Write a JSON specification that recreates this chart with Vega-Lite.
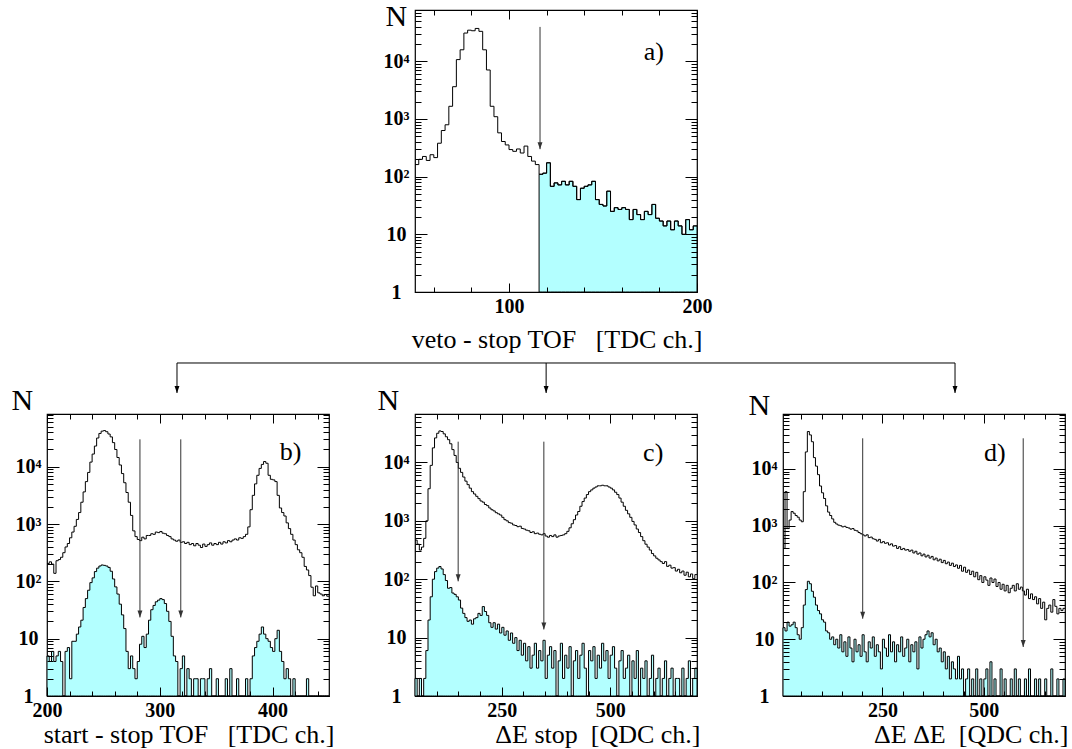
{
"$schema":"https://vega.github.io/schema/vega-lite/v6.json",
"background":"white",
"padding":{"left":10,"top":0,"right":0,"bottom":0},
"config":{"font":"Liberation Serif","view":{"stroke":"#000","strokeWidth":1.2},
"axis":{"domain":false,"grid":false,"tickColor":"#000","tickWidth":1,"labelFont":"Liberation Serif","labelFontSize":20,"labelFontWeight":"bold","labelColor":"#000","titleFont":"Liberation Serif","titleFontSize":26,"titleFontWeight":"normal","titleColor":"#000"}},
"datasets":{
"a":[{"x":50,"n":162},{"x":52,"n":200},{"x":54,"n":224},{"x":56,"n":191},{"x":58,"n":240},{"x":60,"n":214},{"x":62,"n":380},{"x":64,"n":631},{"x":66,"n":794},{"x":68,"n":1660},{"x":70,"n":3631},{"x":72,"n":10715},{"x":74,"n":15849},{"x":76,"n":30903},{"x":78,"n":34674},{"x":80,"n":33884},{"x":82,"n":37154},{"x":84,"n":33113},{"x":86,"n":15849},{"x":88,"n":7079},{"x":90,"n":1660},{"x":92,"n":1096},{"x":94,"n":575},{"x":96,"n":407},{"x":98,"n":355},{"x":100,"n":295},{"x":102,"n":275},{"x":104,"n":302},{"x":106,"n":257},{"x":108,"n":339},{"x":110,"n":224},{"x":112,"n":186},{"x":114,"n":162},{"x":116,"n":110},{"x":118,"n":115},{"x":120,"n":174},{"x":122,"n":68},{"x":124,"n":78},{"x":126,"n":72},{"x":128,"n":83},{"x":130,"n":72},{"x":132,"n":83},{"x":134,"n":68},{"x":136,"n":40},{"x":138,"n":63},{"x":140,"n":68},{"x":142,"n":72},{"x":144,"n":83},{"x":146,"n":40},{"x":148,"n":33},{"x":150,"n":31},{"x":152,"n":56},{"x":154,"n":25},{"x":156,"n":29},{"x":158,"n":27},{"x":160,"n":29},{"x":162,"n":27},{"x":164,"n":18},{"x":166,"n":27},{"x":168,"n":22},{"x":170,"n":18},{"x":172,"n":25},{"x":174,"n":22},{"x":176,"n":33},{"x":178,"n":19},{"x":180,"n":17},{"x":182,"n":14},{"x":184,"n":17},{"x":186,"n":12},{"x":188,"n":17},{"x":190,"n":14},{"x":192,"n":10},{"x":194,"n":18},{"x":196,"n":12},{"x":198,"n":14},{"x":200,"n":14}],
"b":[{"x":200,"t":204,"s":5},{"x":202,"t":219,"s":4},{"x":204,"t":200,"s":6},{"x":206,"t":138,"s":4},{"x":208,"t":229,"s":5},{"x":210,"t":240,"s":6},{"x":212,"t":263,"s":4},{"x":214,"t":316,"s":1},{"x":216,"t":398,"s":6},{"x":218,"t":457,"s":7},{"x":220,"t":575,"s":2},{"x":222,"t":724,"s":9},{"x":224,"t":912,"s":9},{"x":226,"t":1202,"s":12},{"x":228,"t":1585,"s":16},{"x":230,"t":2399,"s":21},{"x":232,"t":3631,"s":35},{"x":234,"t":5495,"s":50},{"x":236,"t":7943,"s":70},{"x":238,"t":12023,"s":95},{"x":240,"t":16596,"s":115},{"x":242,"t":22909,"s":148},{"x":244,"t":31623,"s":170},{"x":246,"t":38019,"s":185},{"x":248,"t":41687,"s":193},{"x":250,"t":42658,"s":190},{"x":252,"t":40738,"s":185},{"x":254,"t":37154,"s":175},{"x":256,"t":33113,"s":150},{"x":258,"t":26303,"s":110},{"x":260,"t":19953,"s":80},{"x":262,"t":14454,"s":60},{"x":264,"t":10715,"s":40},{"x":266,"t":7586,"s":26},{"x":268,"t":5248,"s":15},{"x":270,"t":3548,"s":6},{"x":272,"t":2399,"s":3},{"x":274,"t":1413,"s":5},{"x":276,"t":759,"s":3},{"x":278,"t":603,"s":2},{"x":280,"t":537,"s":4},{"x":282,"t":513,"s":8},{"x":284,"t":589,"s":11},{"x":286,"t":550,"s":7},{"x":288,"t":631,"s":12},{"x":290,"t":631,"s":21},{"x":292,"t":676,"s":32},{"x":294,"t":661,"s":38},{"x":296,"t":724,"s":44},{"x":298,"t":708,"s":47},{"x":300,"t":741,"s":50},{"x":302,"t":692,"s":48},{"x":304,"t":676,"s":41},{"x":306,"t":631,"s":30},{"x":308,"t":603,"s":20},{"x":310,"t":550,"s":11},{"x":312,"t":525,"s":5},{"x":314,"t":501,"s":4},{"x":316,"t":525,"s":1},{"x":318,"t":479,"s":3},{"x":320,"t":490,"s":5},{"x":322,"t":457,"s":1},{"x":324,"t":479,"s":3},{"x":326,"t":437,"s":2},{"x":328,"t":457,"s":1},{"x":330,"t":417,"s":2},{"x":332,"t":457,"s":2},{"x":334,"t":427,"s":1},{"x":336,"t":389,"s":2},{"x":338,"t":447,"s":2},{"x":340,"t":407,"s":1},{"x":342,"t":437,"s":2},{"x":344,"t":468,"s":3},{"x":346,"t":427,"s":1},{"x":348,"t":457,"s":1},{"x":350,"t":437,"s":2},{"x":352,"t":479,"s":1},{"x":354,"t":447,"s":1},{"x":356,"t":490,"s":1},{"x":358,"t":468,"s":2},{"x":360,"t":513,"s":1},{"x":362,"t":490,"s":3},{"x":364,"t":525,"s":1},{"x":366,"t":550,"s":1},{"x":368,"t":525,"s":2},{"x":370,"t":575,"s":1},{"x":372,"t":562,"s":1},{"x":374,"t":603,"s":1},{"x":376,"t":661,"s":2},{"x":378,"t":891,"s":1},{"x":380,"t":1778,"s":2},{"x":382,"t":3162,"s":5},{"x":384,"t":5012,"s":7},{"x":386,"t":7079,"s":9},{"x":388,"t":9333,"s":12},{"x":390,"t":10965,"s":16},{"x":392,"t":12303,"s":12},{"x":394,"t":11482,"s":10},{"x":396,"t":7079,"s":9},{"x":398,"t":6026,"s":7},{"x":400,"t":5888,"s":6},{"x":402,"t":5495,"s":10},{"x":404,"t":3162,"s":14},{"x":406,"t":1905,"s":6},{"x":408,"t":1585,"s":4},{"x":410,"t":1380,"s":2},{"x":412,"t":1047,"s":3},{"x":414,"t":832,"s":2},{"x":416,"t":661,"s":1},{"x":418,"t":525,"s":2},{"x":420,"t":437,"s":1},{"x":422,"t":355,"s":1},{"x":424,"t":316,"s":1},{"x":426,"t":263,"s":1},{"x":428,"t":182,"s":1},{"x":430,"t":158,"s":2},{"x":432,"t":126,"s":1},{"x":434,"t":79,"s":1},{"x":436,"t":56,"s":1},{"x":438,"t":83,"s":1},{"x":440,"t":63,"s":1},{"x":442,"t":60,"s":1},{"x":444,"t":56,"s":1},{"x":446,"t":59,"s":1},{"x":448,"t":55,"s":1},{"x":450,"t":55,"s":1}],
"c":[{"x":50,"t":468,"s":2},{"x":55,"t":398,"s":1},{"x":60,"t":316,"s":2},{"x":65,"t":355,"s":1},{"x":70,"t":501,"s":2},{"x":75,"t":1000,"s":6},{"x":80,"t":3548,"s":20},{"x":85,"t":8913,"s":50},{"x":90,"t":17783,"s":100},{"x":95,"t":26303,"s":135},{"x":100,"t":31623,"s":155},{"x":105,"t":34674,"s":165},{"x":110,"t":33884,"s":150},{"x":115,"t":30903,"s":120},{"x":120,"t":27542,"s":95},{"x":125,"t":24547,"s":70},{"x":130,"t":20893,"s":72},{"x":135,"t":16596,"s":58},{"x":140,"t":13183,"s":55},{"x":145,"t":10000,"s":50},{"x":150,"t":7943,"s":44},{"x":155,"t":6761,"s":32},{"x":160,"t":5623,"s":26},{"x":165,"t":4786,"s":22},{"x":170,"t":4169,"s":19},{"x":175,"t":3631,"s":20},{"x":180,"t":3162,"s":17},{"x":185,"t":2884,"s":21},{"x":190,"t":2630,"s":22},{"x":195,"t":2399,"s":26},{"x":200,"t":2188,"s":24},{"x":205,"t":2089,"s":34},{"x":210,"t":1905,"s":28},{"x":215,"t":1820,"s":24},{"x":220,"t":1660,"s":18},{"x":225,"t":1549,"s":15},{"x":230,"t":1479,"s":18},{"x":235,"t":1380,"s":14},{"x":240,"t":1318,"s":17},{"x":245,"t":1259,"s":12},{"x":250,"t":1148,"s":15},{"x":255,"t":1047,"s":11},{"x":260,"t":1000,"s":13},{"x":265,"t":933,"s":9},{"x":270,"t":912,"s":12},{"x":275,"t":851,"s":8},{"x":280,"t":832,"s":10},{"x":285,"t":794,"s":6},{"x":290,"t":810,"s":9},{"x":295,"t":741,"s":5},{"x":300,"t":724,"s":8},{"x":305,"t":692,"s":4},{"x":310,"t":676,"s":7},{"x":315,"t":631,"s":3},{"x":320,"t":650,"s":5},{"x":325,"t":603,"s":8},{"x":330,"t":617,"s":3},{"x":335,"t":589,"s":6},{"x":340,"t":575,"s":4},{"x":345,"t":603,"s":9},{"x":350,"t":550,"s":2},{"x":355,"t":525,"s":5},{"x":360,"t":562,"s":7},{"x":365,"t":537,"s":3},{"x":370,"t":575,"s":6},{"x":375,"t":525,"s":1},{"x":380,"t":550,"s":4},{"x":385,"t":562,"s":8},{"x":390,"t":575,"s":2},{"x":395,"t":603,"s":5},{"x":400,"t":661,"s":3},{"x":405,"t":759,"s":7},{"x":410,"t":891,"s":1},{"x":415,"t":1047,"s":4},{"x":420,"t":1259,"s":6},{"x":425,"t":1445,"s":2},{"x":430,"t":1778,"s":5},{"x":435,"t":2138,"s":8},{"x":440,"t":2455,"s":3},{"x":445,"t":2818,"s":1},{"x":450,"t":3162,"s":6},{"x":455,"t":3388,"s":4},{"x":460,"t":3631,"s":7},{"x":465,"t":3802,"s":2},{"x":470,"t":3981,"s":5},{"x":475,"t":3981,"s":3},{"x":480,"t":4074,"s":8},{"x":485,"t":3981,"s":4},{"x":490,"t":3981,"s":6},{"x":495,"t":3802,"s":2},{"x":500,"t":3631,"s":5},{"x":505,"t":3388,"s":7},{"x":510,"t":3090,"s":3},{"x":515,"t":2818,"s":1},{"x":520,"t":2455,"s":4},{"x":525,"t":2089,"s":6},{"x":530,"t":1778,"s":2},{"x":535,"t":1514,"s":3},{"x":540,"t":1318,"s":5},{"x":545,"t":1148,"s":1},{"x":550,"t":977,"s":4},{"x":555,"t":851,"s":2},{"x":560,"t":724,"s":6},{"x":565,"t":631,"s":1},{"x":570,"t":537,"s":3},{"x":575,"t":457,"s":2},{"x":580,"t":398,"s":4},{"x":585,"t":355,"s":1},{"x":590,"t":316,"s":2},{"x":595,"t":275,"s":5},{"x":600,"t":251,"s":1},{"x":605,"t":229,"s":2},{"x":610,"t":214,"s":3},{"x":615,"t":200,"s":1},{"x":620,"t":186,"s":2},{"x":625,"t":200,"s":4},{"x":630,"t":166,"s":1},{"x":635,"t":174,"s":2},{"x":640,"t":155,"s":3},{"x":645,"t":158,"s":1},{"x":650,"t":138,"s":2},{"x":655,"t":148,"s":2},{"x":660,"t":129,"s":1},{"x":665,"t":138,"s":3},{"x":670,"t":117,"s":1},{"x":675,"t":132,"s":2},{"x":680,"t":110,"s":4},{"x":685,"t":123,"s":1},{"x":690,"t":102,"s":2},{"x":695,"t":120,"s":3},{"x":700,"t":120,"s":3}],
"d":[{"x":5,"t":398,"s":16},{"x":10,"t":3981,"s":14},{"x":15,"t":891,"s":20},{"x":20,"t":1259,"s":17},{"x":25,"t":1778,"s":18},{"x":30,"t":1660,"s":20},{"x":35,"t":1514,"s":16},{"x":40,"t":1413,"s":12},{"x":45,"t":1259,"s":10},{"x":50,"t":1175,"s":16},{"x":55,"t":3981,"s":40},{"x":60,"t":19953,"s":75},{"x":65,"t":45709,"s":105},{"x":70,"t":39811,"s":95},{"x":75,"t":30200,"s":70},{"x":80,"t":15849,"s":55},{"x":85,"t":11220,"s":40},{"x":90,"t":7943,"s":32},{"x":95,"t":5012,"s":28},{"x":100,"t":3802,"s":22},{"x":105,"t":3020,"s":20},{"x":110,"t":2239,"s":14},{"x":115,"t":1738,"s":13},{"x":120,"t":1514,"s":10},{"x":125,"t":1318,"s":11},{"x":130,"t":1148,"s":8},{"x":135,"t":1072,"s":10},{"x":140,"t":1023,"s":7},{"x":145,"t":1000,"s":12},{"x":150,"t":955,"s":6},{"x":155,"t":977,"s":9},{"x":160,"t":933,"s":5},{"x":165,"t":912,"s":11},{"x":170,"t":871,"s":7},{"x":175,"t":891,"s":4},{"x":180,"t":832,"s":10},{"x":185,"t":813,"s":6},{"x":190,"t":759,"s":8},{"x":195,"t":724,"s":5},{"x":200,"t":692,"s":12},{"x":205,"t":661,"s":6},{"x":210,"t":692,"s":4},{"x":215,"t":617,"s":9},{"x":220,"t":631,"s":7},{"x":225,"t":589,"s":11},{"x":230,"t":575,"s":5},{"x":235,"t":537,"s":8},{"x":240,"t":575,"s":6},{"x":245,"t":501,"s":3},{"x":250,"t":525,"s":10},{"x":255,"t":490,"s":7},{"x":260,"t":501,"s":5},{"x":265,"t":457,"s":12},{"x":270,"t":479,"s":6},{"x":275,"t":437,"s":9},{"x":280,"t":447,"s":4},{"x":285,"t":398,"s":8},{"x":290,"t":427,"s":6},{"x":295,"t":380,"s":11},{"x":300,"t":398,"s":5},{"x":305,"t":372,"s":7},{"x":310,"t":380,"s":10},{"x":315,"t":355,"s":4},{"x":320,"t":372,"s":8},{"x":325,"t":331,"s":6},{"x":330,"t":355,"s":9},{"x":335,"t":316,"s":3},{"x":340,"t":331,"s":11},{"x":345,"t":295,"s":7},{"x":350,"t":316,"s":10},{"x":355,"t":282,"s":12},{"x":360,"t":302,"s":14},{"x":365,"t":269,"s":11},{"x":370,"t":288,"s":13},{"x":375,"t":251,"s":8},{"x":380,"t":269,"s":10},{"x":385,"t":240,"s":6},{"x":390,"t":257,"s":7},{"x":395,"t":224,"s":4},{"x":400,"t":245,"s":6},{"x":405,"t":214,"s":3},{"x":410,"t":229,"s":5},{"x":415,"t":200,"s":2},{"x":420,"t":219,"s":4},{"x":425,"t":191,"s":3},{"x":430,"t":204,"s":2},{"x":435,"t":178,"s":5},{"x":440,"t":200,"s":2},{"x":445,"t":158,"s":3},{"x":450,"t":186,"s":1},{"x":455,"t":151,"s":2},{"x":460,"t":166,"s":3},{"x":465,"t":138,"s":1},{"x":470,"t":158,"s":2},{"x":475,"t":126,"s":1},{"x":480,"t":151,"s":3},{"x":485,"t":112,"s":1},{"x":490,"t":132,"s":2},{"x":495,"t":100,"s":1},{"x":500,"t":126,"s":2},{"x":505,"t":110,"s":3},{"x":510,"t":89,"s":1},{"x":515,"t":120,"s":4},{"x":520,"t":100,"s":1},{"x":525,"t":115,"s":2},{"x":530,"t":85,"s":1},{"x":535,"t":100,"s":1},{"x":540,"t":76,"s":3},{"x":545,"t":93,"s":1},{"x":550,"t":71,"s":2},{"x":555,"t":89,"s":1},{"x":560,"t":66,"s":1},{"x":565,"t":79,"s":2},{"x":570,"t":89,"s":1},{"x":575,"t":71,"s":3},{"x":580,"t":95,"s":1},{"x":585,"t":76,"s":2},{"x":590,"t":83,"s":1},{"x":595,"t":71,"s":1},{"x":600,"t":60,"s":2},{"x":605,"t":76,"s":1},{"x":610,"t":52,"s":3},{"x":615,"t":63,"s":1},{"x":620,"t":50,"s":1},{"x":625,"t":56,"s":2},{"x":630,"t":42,"s":1},{"x":635,"t":52,"s":2},{"x":640,"t":35,"s":1},{"x":645,"t":45,"s":1},{"x":650,"t":22,"s":2},{"x":655,"t":35,"s":1},{"x":660,"t":40,"s":1},{"x":665,"t":30,"s":3},{"x":670,"t":50,"s":1},{"x":675,"t":38,"s":1},{"x":680,"t":28,"s":2},{"x":685,"t":35,"s":1},{"x":690,"t":32,"s":1},{"x":695,"t":35,"s":2},{"x":700,"t":35,"s":2}]
},
"columns":3,
"bounds":"flush",
"spacing":{"row":10,"column":86},
"concat":[
{"width":282,"height":282,"view":{"stroke":null},"data":{"values":[]},"mark":"point"},
{"width":282,"height":282,"data":{"name":"a"},"resolve":{"axis":{"x":"independent","y":"independent"}},
"layer":[
{"transform":[{"filter":"datum.x>=116"}],"mark":{"type":"area","interpolate":"step-after","fill":"#b3ffff","stroke":"#000","strokeWidth":1},
"encoding":{"x":{"field":"x","type":"quantitative","scale":{"domain":[50,200],"nice":false,"zero":false},
"axis":{"orient":"bottom","values":[60,80,100,120,140,160,180,200],"labelExpr":"datum.value==100||datum.value==200?datum.label:''","tickSize":{"condition":{"test":"datum.value==100||datum.value==200","value":-9},"value":-5},"labelPadding":13,"labelFlush":false,"labelOverlap":false,"zindex":1,"title":"veto - stop TOF\u00a0\u00a0\u00a0[TDC ch.]","titleX":287,"titleY":55,"titleAlign":"right","titleBaseline":"alphabetic"}},
"y":{"field":"n","type":"quantitative","scale":{"type":"log","domain":[1,77600],"nice":false},
"axis":{"orient":"left","values":[1,2,3,4,5,6,7,8,9,10,20,30,40,50,60,70,80,90,100,200,300,400,500,600,700,800,900,1000,2000,3000,4000,5000,6000,7000,8000,9000,10000,20000,30000,40000,50000,60000,70000],"labelExpr":"datum.value==1?'1':datum.value==10?'10':datum.value==100?'10\u00b2':datum.value==1000?'10\u00b3':datum.value==10000?'10\u2074':''","tickSize":{"condition":{"test":"datum.value==1||datum.value==10||datum.value==100||datum.value==1000||datum.value==10000","value":-12},"value":-6},"labelPadding":31,"labelAlign":"center","labelFlush":false,"labelOverlap":false,"zindex":1,"title":"N","titleAngle":0,"titleX":-30,"titleY":15,"titleAlign":"left","titleBaseline":"alphabetic","titleFontSize":30}},
"y2":{"datum":1}}},
{"mark":{"type":"line","interpolate":"step-after","color":"#000","strokeWidth":1},
"encoding":{"x":{"field":"x","type":"quantitative","scale":{"domain":[50,200],"nice":false,"zero":false},"axis":null},"y":{"field":"n","type":"quantitative","scale":{"type":"log","domain":[1,77600],"nice":false},"axis":null}}},
{"data":{"values":[{"x":116.5,"top":39500,"tip":300}]},"mark":{"type":"rule","color":"#333","strokeWidth":1},
"encoding":{"x":{"field":"x","type":"quantitative","scale":{"domain":[50,200],"nice":false,"zero":false},"axis":null},"y":{"field":"top","type":"quantitative","scale":{"type":"log","domain":[1,77600],"nice":false},"axis":null},"y2":{"field":"tip"}}},
{"data":{"values":[{"x":116.5,"tip":300}]},"mark":{"type":"point","shape":"M-0.7,-2L0.7,-2L0,0Z","filled":true,"color":"#333","size":49,"opacity":1},
"encoding":{"x":{"field":"x","type":"quantitative","scale":{"domain":[50,200],"nice":false,"zero":false},"axis":null},"y":{"field":"tip","type":"quantitative","scale":{"type":"log","domain":[1,77600],"nice":false},"axis":null}}},
{"data":{"values":[{"x":177,"y":14500,"t":"a)"}]},"mark":{"type":"text","fontSize":26,"font":"Liberation Serif","align":"center","baseline":"middle","color":"#000"},
"encoding":{"x":{"field":"x","type":"quantitative","scale":{"domain":[50,200],"nice":false,"zero":false},"axis":{"orient":"top","values":[60,80,100,120,140,160,180,200],"labels":false,"tickSize":{"condition":{"test":"datum.value==100||datum.value==200","value":-9},"value":-5},"title":null,"zindex":1}},
"y":{"field":"y","type":"quantitative","scale":{"type":"log","domain":[1,77600],"nice":false},"axis":{"orient":"right","values":[1,2,3,4,5,6,7,8,9,10,20,30,40,50,60,70,80,90,100,200,300,400,500,600,700,800,900,1000,2000,3000,4000,5000,6000,7000,8000,9000,10000,20000,30000,40000,50000,60000,70000],"labels":false,"tickSize":{"condition":{"test":"datum.value==1||datum.value==10||datum.value==100||datum.value==1000||datum.value==10000","value":-12},"value":-6},"title":null,"zindex":1}},
"text":{"field":"t"}}}
]},
{"width":282,"height":282,"view":{"stroke":null},"data":{"values":[]},"mark":"point"},
{"width":282,"height":102,"view":{"stroke":null},"data":{"values":[]},"mark":"point"},
{"width":282,"height":102,"view":{"stroke":null},
"layer":[
{"data":{"values":[{"x":-0.844,"x2":1.915,"y":0.598}]},"mark":{"type":"rule","color":"#000","strokeWidth":1},
"encoding":{"x":{"field":"x","type":"quantitative","scale":{"domain":[0,1]},"axis":null},"x2":{"field":"x2"},"y":{"field":"y","type":"quantitative","scale":{"domain":[0,1],"reverse":true},"axis":null}}},
{"data":{"values":[{"x":-0.844,"y":0.598,"y2":0.892},{"x":0.465,"y":0.598,"y2":0.892},{"x":1.915,"y":0.598,"y2":0.892}]},"mark":{"type":"rule","color":"#000","strokeWidth":1},
"encoding":{"x":{"field":"x","type":"quantitative","scale":{"domain":[0,1]},"axis":null},"y":{"field":"y","type":"quantitative","scale":{"domain":[0,1],"reverse":true},"axis":null},"y2":{"field":"y2"}}},
{"data":{"values":[{"x":-0.844,"y":0.892},{"x":0.465,"y":0.892},{"x":1.915,"y":0.892}]},"mark":{"type":"point","shape":"M-0.7,-2L0.7,-2L0,0Z","filled":true,"color":"#000","size":49,"opacity":1},
"encoding":{"x":{"field":"x","type":"quantitative","scale":{"domain":[0,1]},"axis":null},"y":{"field":"y","type":"quantitative","scale":{"domain":[0,1],"reverse":true},"axis":null}}}
]},
{"width":282,"height":102,"view":{"stroke":null},"data":{"values":[]},"mark":"point"},
{"width":282,"height":282,"data":{"name":"b"},"resolve":{"axis":{"x":"independent","y":"independent"}},
"layer":[
{"mark":{"type":"area","interpolate":"step-after","fill":"#b3ffff","stroke":"#000","strokeWidth":1},
"encoding":{"x":{"field":"x","type":"quantitative","scale":{"domain":[200,450],"nice":false,"zero":false},
"axis":{"orient":"bottom","values":[200,220,240,260,280,300,320,340,360,380,400,420,440],"labelExpr":"datum.value%100==0?datum.label:''","tickSize":{"condition":{"test":"datum.value%100==0","value":-9},"value":-5},"labelPadding":13,"labelFlush":false,"labelOverlap":false,"zindex":1,"title":"start - stop TOF\u00a0\u00a0\u00a0[TDC ch.]","titleX":287,"titleY":46,"titleAlign":"right","titleBaseline":"alphabetic"}},
"y":{"field":"s","type":"quantitative","scale":{"type":"log","domain":[1,83000],"nice":false},
"axis":{"orient":"left","values":[1,2,3,4,5,6,7,8,9,10,20,30,40,50,60,70,80,90,100,200,300,400,500,600,700,800,900,1000,2000,3000,4000,5000,6000,7000,8000,9000,10000,20000,30000,40000,50000,60000,70000,80000],"labelExpr":"datum.value==1?'1':datum.value==10?'10':datum.value==100?'10\u00b2':datum.value==1000?'10\u00b3':datum.value==10000?'10\u2074':''","tickSize":{"condition":{"test":"datum.value==1||datum.value==10||datum.value==100||datum.value==1000||datum.value==10000","value":-12},"value":-6},"labelPadding":31,"labelAlign":"center","labelFlush":false,"labelOverlap":false,"zindex":1,"title":"N","titleAngle":0,"titleX":-36,"titleY":-5,"titleAlign":"left","titleBaseline":"alphabetic","titleFontSize":30}},
"y2":{"datum":1}}},
{"mark":{"type":"line","interpolate":"step-after","color":"#000","strokeWidth":1},
"encoding":{"x":{"field":"x","type":"quantitative","scale":{"domain":[200,450],"nice":false,"zero":false},"axis":null},"y":{"field":"t","type":"quantitative","scale":{"type":"log","domain":[1,83000],"nice":false},"axis":null}}},
{"data":{"values":[{"x":282.4,"top":30000,"tip":23.5},{"x":318.6,"top":30000,"tip":23.5}]},"mark":{"type":"rule","color":"#333","strokeWidth":1},
"encoding":{"x":{"field":"x","type":"quantitative","scale":{"domain":[200,450],"nice":false,"zero":false},"axis":null},"y":{"field":"top","type":"quantitative","scale":{"type":"log","domain":[1,83000],"nice":false},"axis":null},"y2":{"field":"tip"}}},
{"data":{"values":[{"x":282.4,"tip":23.5},{"x":318.6,"tip":23.5}]},"mark":{"type":"point","shape":"M-0.7,-2L0.7,-2L0,0Z","filled":true,"color":"#333","size":49,"opacity":1},
"encoding":{"x":{"field":"x","type":"quantitative","scale":{"domain":[200,450],"nice":false,"zero":false},"axis":null},"y":{"field":"tip","type":"quantitative","scale":{"type":"log","domain":[1,83000],"nice":false},"axis":null}}},
{"data":{"values":[{"x":416,"y":18000,"t":"b)"}]},"mark":{"type":"text","fontSize":26,"font":"Liberation Serif","align":"center","baseline":"middle","color":"#000"},
"encoding":{"x":{"field":"x","type":"quantitative","scale":{"domain":[200,450],"nice":false,"zero":false},"axis":{"orient":"top","values":[200,220,240,260,280,300,320,340,360,380,400,420,440],"labels":false,"tickSize":{"condition":{"test":"datum.value%100==0","value":-9},"value":-5},"title":null,"zindex":1}},
"y":{"field":"y","type":"quantitative","scale":{"type":"log","domain":[1,83000],"nice":false},"axis":{"orient":"right","values":[1,2,3,4,5,6,7,8,9,10,20,30,40,50,60,70,80,90,100,200,300,400,500,600,700,800,900,1000,2000,3000,4000,5000,6000,7000,8000,9000,10000,20000,30000,40000,50000,60000,70000,80000],"labels":false,"tickSize":{"condition":{"test":"datum.value==1||datum.value==10||datum.value==100||datum.value==1000||datum.value==10000","value":-12},"value":-6},"title":null,"zindex":1}},
"text":{"field":"t"}}}
]},
{"width":282,"height":282,"data":{"name":"c"},"resolve":{"axis":{"x":"independent","y":"independent"}},
"layer":[
{"mark":{"type":"area","interpolate":"step-after","fill":"#b3ffff","stroke":"#000","strokeWidth":1},
"encoding":{"x":{"field":"x","type":"quantitative","scale":{"domain":[50,700],"nice":false,"zero":false},
"axis":{"orient":"bottom","values":[100,150,200,250,300,350,400,450,500,550,600,650],"labelExpr":"datum.value==250||datum.value==500?datum.label:''","tickSize":{"condition":{"test":"datum.value==250||datum.value==500","value":-9},"value":-5},"labelPadding":13,"labelFlush":false,"labelOverlap":false,"zindex":1,"title":"\u0394E stop\u00a0\u00a0[QDC ch.]","titleX":285,"titleY":46,"titleAlign":"right","titleBaseline":"alphabetic"}},
"y":{"field":"s","type":"quantitative","scale":{"type":"log","domain":[1,67600],"nice":false},
"axis":{"orient":"left","values":[1,2,3,4,5,6,7,8,9,10,20,30,40,50,60,70,80,90,100,200,300,400,500,600,700,800,900,1000,2000,3000,4000,5000,6000,7000,8000,9000,10000,20000,30000,40000,50000,60000],"labelExpr":"datum.value==1?'1':datum.value==10?'10':datum.value==100?'10\u00b2':datum.value==1000?'10\u00b3':datum.value==10000?'10\u2074':''","tickSize":{"condition":{"test":"datum.value==1||datum.value==10||datum.value==100||datum.value==1000||datum.value==10000","value":-12},"value":-6},"labelPadding":31,"labelAlign":"center","labelFlush":false,"labelOverlap":false,"zindex":1,"title":"N","titleAngle":0,"titleX":-38,"titleY":-5,"titleAlign":"left","titleBaseline":"alphabetic","titleFontSize":30}},
"y2":{"datum":1}}},
{"mark":{"type":"line","interpolate":"step-after","color":"#000","strokeWidth":1},
"encoding":{"x":{"field":"x","type":"quantitative","scale":{"domain":[50,700],"nice":false,"zero":false},"axis":null},"y":{"field":"t","type":"quantitative","scale":{"type":"log","domain":[1,67600],"nice":false},"axis":null}}},
{"data":{"values":[{"x":149.5,"top":22700,"tip":92},{"x":347,"top":22700,"tip":13.8}]},"mark":{"type":"rule","color":"#333","strokeWidth":1},
"encoding":{"x":{"field":"x","type":"quantitative","scale":{"domain":[50,700],"nice":false,"zero":false},"axis":null},"y":{"field":"top","type":"quantitative","scale":{"type":"log","domain":[1,67600],"nice":false},"axis":null},"y2":{"field":"tip"}}},
{"data":{"values":[{"x":149.5,"tip":92},{"x":347,"tip":13.8}]},"mark":{"type":"point","shape":"M-0.7,-2L0.7,-2L0,0Z","filled":true,"color":"#333","size":49,"opacity":1},
"encoding":{"x":{"field":"x","type":"quantitative","scale":{"domain":[50,700],"nice":false,"zero":false},"axis":null},"y":{"field":"tip","type":"quantitative","scale":{"type":"log","domain":[1,67600],"nice":false},"axis":null}}},
{"data":{"values":[{"x":599,"y":14600,"t":"c)"}]},"mark":{"type":"text","fontSize":26,"font":"Liberation Serif","align":"center","baseline":"middle","color":"#000"},
"encoding":{"x":{"field":"x","type":"quantitative","scale":{"domain":[50,700],"nice":false,"zero":false},"axis":{"orient":"top","values":[100,150,200,250,300,350,400,450,500,550,600,650],"labels":false,"tickSize":{"condition":{"test":"datum.value==250||datum.value==500","value":-9},"value":-5},"title":null,"zindex":1}},
"y":{"field":"y","type":"quantitative","scale":{"type":"log","domain":[1,67600],"nice":false},"axis":{"orient":"right","values":[1,2,3,4,5,6,7,8,9,10,20,30,40,50,60,70,80,90,100,200,300,400,500,600,700,800,900,1000,2000,3000,4000,5000,6000,7000,8000,9000,10000,20000,30000,40000,50000,60000],"labels":false,"tickSize":{"condition":{"test":"datum.value==1||datum.value==10||datum.value==100||datum.value==1000||datum.value==10000","value":-12},"value":-6},"title":null,"zindex":1}},
"text":{"field":"t"}}}
]},
{"width":282,"height":282,"data":{"name":"d"},"resolve":{"axis":{"x":"independent","y":"independent"}},
"layer":[
{"mark":{"type":"area","interpolate":"step-after","fill":"#b3ffff","stroke":"#000","strokeWidth":1},
"encoding":{"x":{"field":"x","type":"quantitative","scale":{"domain":[5,700],"nice":false,"zero":false},
"axis":{"orient":"bottom","values":[50,100,150,200,250,300,350,400,450,500,550,600,650],"labelExpr":"datum.value==250||datum.value==500?datum.label:''","tickSize":{"condition":{"test":"datum.value==250||datum.value==500","value":-9},"value":-5},"labelPadding":13,"labelFlush":false,"labelOverlap":false,"zindex":1,"title":"\u0394E \u0394E\u00a0\u00a0[QDC ch.]","titleX":285,"titleY":46,"titleAlign":"right","titleBaseline":"alphabetic"}},
"y":{"field":"s","type":"quantitative","scale":{"type":"log","domain":[1,93000],"nice":false},
"axis":{"orient":"left","values":[1,2,3,4,5,6,7,8,9,10,20,30,40,50,60,70,80,90,100,200,300,400,500,600,700,800,900,1000,2000,3000,4000,5000,6000,7000,8000,9000,10000,20000,30000,40000,50000,60000,70000,80000,90000],"labelExpr":"datum.value==1?'1':datum.value==10?'10':datum.value==100?'10\u00b2':datum.value==1000?'10\u00b3':datum.value==10000?'10\u2074':''","tickSize":{"condition":{"test":"datum.value==1||datum.value==10||datum.value==100||datum.value==1000||datum.value==10000","value":-12},"value":-6},"labelPadding":31,"labelAlign":"center","labelFlush":false,"labelOverlap":false,"zindex":1,"title":"N","titleAngle":0,"titleX":-35,"titleY":0,"titleAlign":"left","titleBaseline":"alphabetic","titleFontSize":30}},
"y2":{"datum":1}}},
{"mark":{"type":"line","interpolate":"step-after","color":"#000","strokeWidth":1},
"encoding":{"x":{"field":"x","type":"quantitative","scale":{"domain":[5,700],"nice":false,"zero":false},"axis":null},"y":{"field":"t","type":"quantitative","scale":{"type":"log","domain":[1,93000],"nice":false},"axis":null}}},
{"data":{"values":[{"x":201.4,"top":34700,"tip":23},{"x":597,"top":34700,"tip":7.3}]},"mark":{"type":"rule","color":"#333","strokeWidth":1},
"encoding":{"x":{"field":"x","type":"quantitative","scale":{"domain":[5,700],"nice":false,"zero":false},"axis":null},"y":{"field":"top","type":"quantitative","scale":{"type":"log","domain":[1,93000],"nice":false},"axis":null},"y2":{"field":"tip"}}},
{"data":{"values":[{"x":201.4,"tip":23},{"x":597,"tip":7.3}]},"mark":{"type":"point","shape":"M-0.7,-2L0.7,-2L0,0Z","filled":true,"color":"#333","size":49,"opacity":1},
"encoding":{"x":{"field":"x","type":"quantitative","scale":{"domain":[5,700],"nice":false,"zero":false},"axis":null},"y":{"field":"tip","type":"quantitative","scale":{"type":"log","domain":[1,93000],"nice":false},"axis":null}}},
{"data":{"values":[{"x":527,"y":19000,"t":"d)"}]},"mark":{"type":"text","fontSize":26,"font":"Liberation Serif","align":"center","baseline":"middle","color":"#000"},
"encoding":{"x":{"field":"x","type":"quantitative","scale":{"domain":[5,700],"nice":false,"zero":false},"axis":{"orient":"top","values":[50,100,150,200,250,300,350,400,450,500,550,600,650],"labels":false,"tickSize":{"condition":{"test":"datum.value==250||datum.value==500","value":-9},"value":-5},"title":null,"zindex":1}},
"y":{"field":"y","type":"quantitative","scale":{"type":"log","domain":[1,93000],"nice":false},"axis":{"orient":"right","values":[1,2,3,4,5,6,7,8,9,10,20,30,40,50,60,70,80,90,100,200,300,400,500,600,700,800,900,1000,2000,3000,4000,5000,6000,7000,8000,9000,10000,20000,30000,40000,50000,60000,70000,80000,90000],"labels":false,"tickSize":{"condition":{"test":"datum.value==1||datum.value==10||datum.value==100||datum.value==1000||datum.value==10000","value":-12},"value":-6},"title":null,"zindex":1}},
"text":{"field":"t"}}}
]}
]
}
